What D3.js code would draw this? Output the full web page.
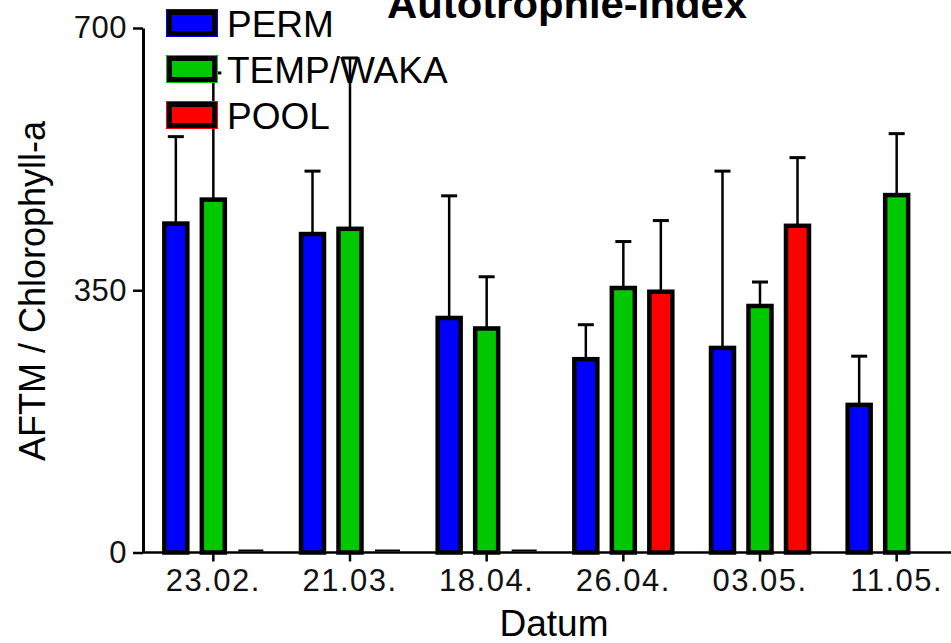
<!DOCTYPE html>
<html>
<head>
<meta charset="utf-8">
<script src="https://cdn.jsdelivr.net/npm/d3@7"></script>
<style>
  body { margin: 0; background: #fff; }
  text { font-family: "Liberation Sans", Arial, sans-serif; }
</style>
</head>
<body>
<div id="chart"></div>
<script>
// Data
const dates = ["23.02.", "21.03.", "18.04.", "26.04.", "03.05.", "11.05."];
const series = ["PERM", "TEMP/WAKA", "POOL"];
const colors = ["#0000ff", "#00c800", "#ff0000"];
const permMean = [439, 425, 313, 258, 273, 197];
const permSd = [116, 84, 163, 46, 236, 65];
const tempMean = [471, 432, 299, 353, 329, 477];
const tempSd = [169, 228, 69, 62, 32, 82];
const poolMean = [0, 0, 0, 348, 436, null];
const poolSd = [0, 0, 0, 95, 91, null];
const yTicks = [0, 350, 700];

const means = [permMean, tempMean, poolMean];
const sds = [permSd, tempSd, poolSd];

const data = [];
dates.forEach((d, i) => {
    series.forEach((s, j) => {
        if (means[j][i] !== null) {
            data.push({date: d, series: s, value: means[j][i], sd: sds[j][i], color: colors[j]});
        }
    });
});

// Set up dimensions
const width = 951;
const height = 643;
const axisX = 143;
const baseY = 552.5;

const svg = d3.select("#chart")
    .append("svg")
    .attr("width", width)
    .attr("height", height);

// Create scales
const x0 = d3.scaleBand()
    .domain(dates)
    .range([145, 965]);

const half = 56.25;
const x1 = d3.scaleBand()
    .domain(series)
    .range([x0.bandwidth() / 2 - half, x0.bandwidth() / 2 + half])
    .paddingInner(0.387)
    .paddingOuter(0.1935);

const y = d3.scaleLinear()
    .domain([0, 700])
    .range([baseY, 28]);

// Error bars (upper only)
const err = svg.append("g").attr("stroke", "#000").attr("fill", "none");
data.filter(d => d.sd > 0).forEach(d => {
    const cx = x0(d.date) + x1(d.series) + x1.bandwidth() / 2;
    err.append("line")
        .attr("x1", cx).attr("x2", cx)
        .attr("y1", y(d.value)).attr("y2", y(d.value + d.sd))
        .attr("stroke-width", 2.5);
    err.append("line")
        .attr("x1", cx - 8).attr("x2", cx + 8)
        .attr("y1", y(d.value + d.sd)).attr("y2", y(d.value + d.sd))
        .attr("stroke-width", 3);
});

// Bars
svg.append("g")
    .selectAll("rect")
    .data(data.filter(d => d.value > 0))
    .enter()
    .append("rect")
    .attr("x", d => x0(d.date) + x1(d.series))
    .attr("y", d => y(d.value))
    .attr("width", x1.bandwidth())
    .attr("height", d => baseY - y(d.value))
    .attr("fill", d => d.color)
    .attr("stroke", "#000")
    .attr("stroke-width", 4.5);

// zero-value bars show as a flat dash on the axis
svg.append("g")
    .selectAll("line")
    .data(data.filter(d => d.value === 0))
    .enter()
    .append("line")
    .attr("x1", d => x0(d.date) + x1(d.series) - 1)
    .attr("x2", d => x0(d.date) + x1(d.series) + x1.bandwidth() + 1)
    .attr("y1", y(0) - 2)
    .attr("y2", y(0) - 2)
    .attr("stroke", "#000")
    .attr("stroke-width", 2);

// Axes
const xAxis = d3.axisBottom(x0).tickSize(9).tickSizeOuter(0).tickPadding(8);
const gx = svg.append("g")
    .attr("transform", `translate(0,${baseY})`)
    .call(xAxis);
gx.select(".domain").attr("d", `M${axisX},0H${width}`).attr("stroke-width", 2.5);
gx.selectAll(".tick line").attr("stroke-width", 2.5);
gx.selectAll(".tick text")
    .attr("font-size", 31)
    .attr("letter-spacing", 1.5)
    .attr("fill", "#111")
    .attr("dy", "0.71em")
    .attr("y", 16);

const yAxis = d3.axisLeft(y).tickValues(yTicks).tickSize(10).tickSizeOuter(0).tickPadding(6);
const gy = svg.append("g")
    .attr("transform", `translate(${axisX},0)`)
    .call(yAxis);
gy.select(".domain").attr("stroke-width", 3);
gy.selectAll(".tick line").attr("stroke-width", 2.5);
gy.selectAll(".tick text")
    .attr("font-size", 31)
    .attr("letter-spacing", 0.5)
    .attr("fill", "#111");

// Axis labels
svg.append("text")
    .attr("x", 554)
    .attr("y", 636)
    .attr("text-anchor", "middle")
    .attr("font-size", 37)
    .text("Datum");

svg.append("text")
    .attr("transform", "translate(45,291) rotate(-90)")
    .attr("text-anchor", "middle")
    .attr("font-size", 36)
    .text("AFTM / Chlorophyll-a");

// Title (cut off at top, as in the original)
svg.append("text")
    .attr("x", 567)
    .attr("y", 18)
    .attr("text-anchor", "middle")
    .attr("font-size", 40)
    .attr("font-weight", "bold")
    .attr("textLength", 360)
    .attr("lengthAdjust", "spacingAndGlyphs")
    .text("Autotrophie-Index");

// Legend
const legend = svg.append("g");
series.forEach((s, j) => {
    const ly = 9 + j * 46;
    legend.append("rect")
        .attr("x", 166.5).attr("y", ly + 0.5)
        .attr("width", 51).attr("height", 27)
        .attr("fill", "none")
        .attr("stroke", colors[j])
        .attr("stroke-width", 1);
    legend.append("rect")
        .attr("x", 169.5).attr("y", ly + 3.5)
        .attr("width", 45).attr("height", 21)
        .attr("fill", colors[j])
        .attr("stroke", "#000")
        .attr("stroke-width", 5);
    legend.append("text")
        .attr("x", 227)
        .attr("y", ly + 27.5)
        .attr("font-size", 37)
        .text(s);
});
</script>
</body>
</html>
